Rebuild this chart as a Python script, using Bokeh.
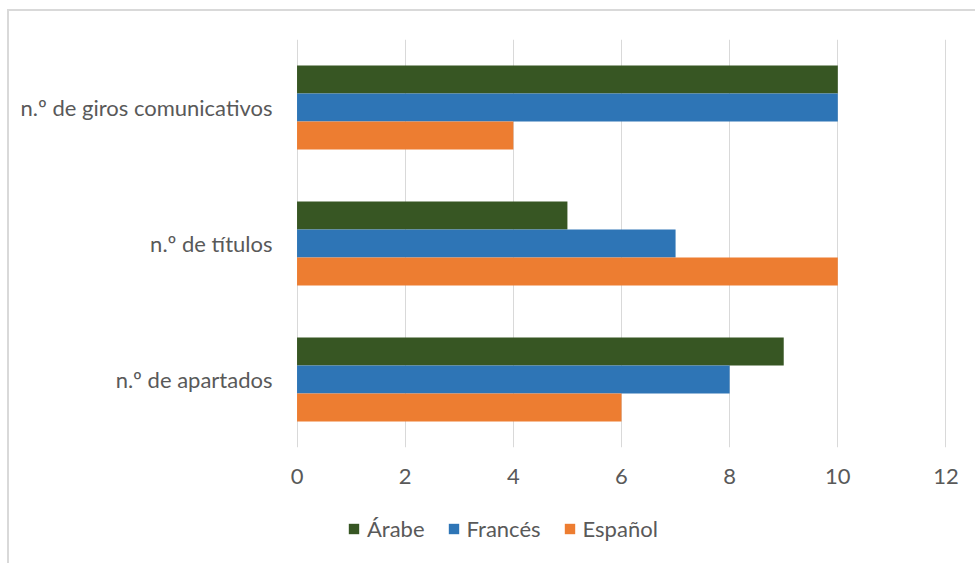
from bokeh.plotting import figure
from bokeh.layouts import column
from bokeh.models import FactorRange, Legend, LegendItem, FixedTicker, Range1d, InlineStyleSheet
from bokeh.transform import dodge
from bokeh.models import ColumnDataSource
from bokeh.embed import file_html
from bokeh.resources import INLINE

categories = ["n.º de apartados", "n.º de títulos", "n.º de giros comunicativos"]
arabe = [9, 5, 10]
frances = [8, 7, 10]
espanol = [6, 10, 4]
series_names = ["Árabe", "Francés", "Español"]
colors = ["#375623", "#2E75B6", "#ED7D31"]
x_ticks = [0, 2, 4, 6, 8, 10, 12]

FONT = "Lato"
TXT = "#595959"
FS = "22px"

src = ColumnDataSource(dict(cat=categories, arabe=arabe, frances=frances, espanol=espanol))

p = figure(width=975, height=505, output_backend="svg", toolbar_location=None,
           y_range=FactorRange(factors=categories, range_padding=0),
           x_range=Range1d(-0.01, 12.01),
           min_border_left=296, min_border_right=29, min_border_top=39, min_border_bottom=58)
p.outline_line_color = None
p.background_fill_color = "white"
p.border_fill_color = "white"

bh = 0.206
p.hbar(y=dodge("cat", bh, range=p.y_range), right="arabe", left=0, height=bh, source=src,
       color=colors[0], line_color=None)
p.hbar(y=dodge("cat", 0, range=p.y_range), right="frances", left=0, height=bh, source=src,
       color=colors[1], line_color=None)
p.hbar(y=dodge("cat", -bh, range=p.y_range), right="espanol", left=0, height=bh, source=src,
       color=colors[2], line_color=None)

p.xaxis.ticker = FixedTicker(ticks=x_ticks)
p.xaxis.axis_line_color = None
p.xaxis.major_tick_line_color = None
p.xaxis.minor_tick_line_color = None
p.xaxis.major_label_text_font = FONT
p.xaxis.major_label_text_font_size = FS
p.xaxis.major_label_text_color = TXT
p.xaxis.major_label_standoff = 15

p.yaxis.axis_line_color = None
p.yaxis.major_tick_line_color = None
p.yaxis.minor_tick_line_color = None
p.yaxis.major_label_text_font = FONT
p.yaxis.major_label_text_font_size = FS
p.yaxis.major_label_text_color = TXT
p.yaxis.major_label_standoff = 18

p.xgrid.grid_line_color = "#D9D9D9"
p.xgrid.grid_line_width = 1
p.ygrid.grid_line_color = None

# legend strip (its frame is aligned with the main frame by the column layout)
p2 = figure(width=975, height=58, output_backend="svg", toolbar_location=None,
            x_range=Range1d(0, 1), y_range=Range1d(0, 1),
            min_border_left=0, min_border_right=0, min_border_top=0, min_border_bottom=0)
p2.axis.visible = False
p2.grid.grid_line_color = None
p2.outline_line_color = None
p2.background_fill_color = "white"
p2.border_fill_color = "white"
nan = float("nan")
items = []
for name, col in zip(series_names, colors):
    r = p2.hbar(y=[nan], right=[nan], left=0, height=0.5, fill_color=col, line_color=None)
    items.append(LegendItem(label=name, renderers=[r]))

legend = Legend(items=items, orientation="horizontal", location=(51, 21),
                glyph_width=13, glyph_height=13, label_standoff=7, spacing=22,
                padding=0, margin=0, border_line_color=None, background_fill_alpha=0,
                label_text_font=FONT, label_text_font_size=FS, label_text_color=TXT,
                label_height=24)
p2.add_layout(legend, "center")

layout = column(p, p2, spacing=0)
layout.stylesheets = [InlineStyleSheet(css="""
:host { overflow: hidden; }
:host::after { content: ''; position: absolute; left: 7px; top: 9px; width: 2000px; height: 2000px;
  border-top: 2px solid #D9D9D9; border-left: 2px solid #D9D9D9; pointer-events: none; z-index: 10; }
""")]

open("out.html", "w").write(file_html(layout, INLINE))
